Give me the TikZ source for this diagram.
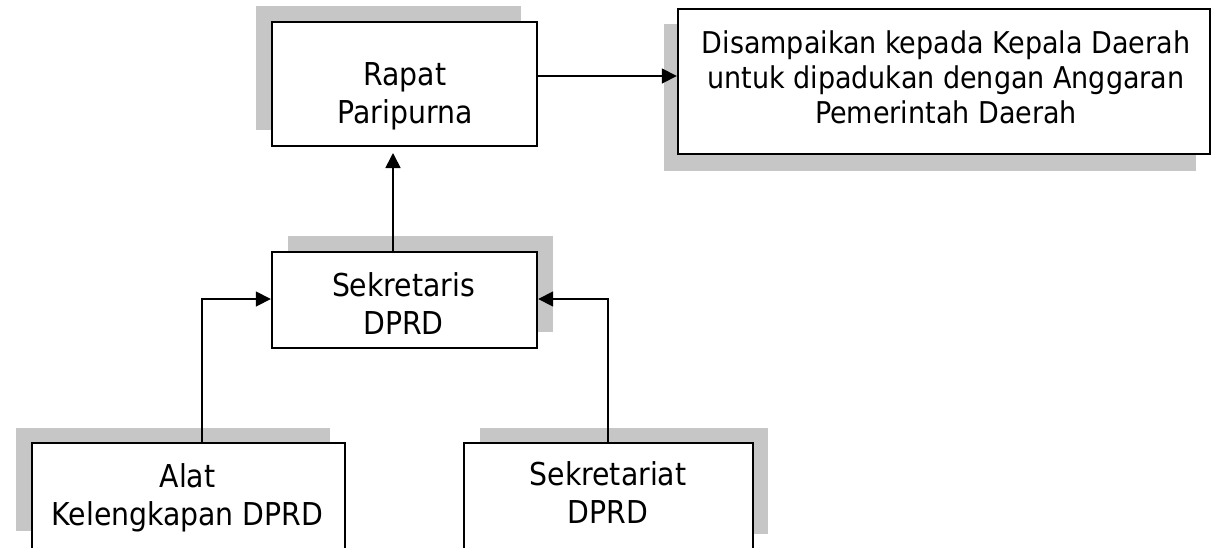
\documentclass[tikz,border=0pt]{standalone}
\usepackage{fontspec}
\setmainfont{DejaVu Sans Condensed}
\usetikzlibrary{arrows.meta}
\definecolor{shadowgray}{RGB}{198,198,198}
\tikzset{
  boxnode/.style={draw=black, line width=2.4pt, fill=white, inner sep=0pt},
  txt/.style={align=center, inner sep=0pt, font=\fontsize{31.5}{38}\selectfont},
  bigtxt/.style={align=center, inner sep=0pt, font=\fontsize{30}{35}\selectfont},
  shadowfill/.style={fill=shadowgray},
  arr/.style={draw=black, line width=1.7pt, -{Triangle[length=15pt,width=15pt]}}
}
\begin{document}
\begin{tikzpicture}[x=1pt,y=-1pt]
\useasboundingbox (0,0) rectangle (1212,547);
\clip (0,0) rectangle (1212,547);
% shadows
\fill[shadowfill] (256,6) rectangle (521,130);
\fill[shadowfill] (664,24) rectangle (1196,171);
\fill[shadowfill] (288,236) rectangle (553,332);
\fill[shadowfill] (16,428) rectangle (330,531);
\fill[shadowfill] (480,428) rectangle (768,534);
% boxes
\node[boxnode, minimum width=265pt, minimum height=124pt] (rapat) at (404.5,84) {};
\node[boxnode, minimum width=532pt, minimum height=145pt] (dis) at (944,81.5) {};
\node[boxnode, minimum width=265pt, minimum height=96pt] (sek) at (404.5,300) {};
\node[boxnode, minimum width=313pt, minimum height=157pt] (alat) at (188.5,521.5) {};
\node[boxnode, minimum width=289pt, minimum height=157pt] (sekt) at (608.5,521.5) {};
% texts
\node[txt] (rapatT) at (405,96.5) {Rapat\\Paripurna};
\node[bigtxt] (disT) at (946,77) {Disampaikan kepada Kepala Daerah\\untuk dipadukan dengan Anggaran\\Pemerintah Daerah};
\node[txt] (sekT) at (403.5,304) {Sekretaris\\DPRD};
\node[txt] (alatT) at (187.5,497.5) {Alat\\Kelengkapan DPRD};
\node[txt] (sektT) at (608,492.5) {Sekretariat\\DPRD};
% connectors
\coordinate (rapatIn) at (393,153);
\draw[arr] (rapat.east |- 0,76) -- (dis.west |- 0,76);
\draw[arr] (sek.north -| 393,0) -- (rapatIn);
\draw[arr] (alat.north -| 202,0) |- (sek.west |- 0,299);
\draw[arr] (sekt.north -| 608,0) |- (sek.east |- 0,299);
\end{tikzpicture}
\end{document}
